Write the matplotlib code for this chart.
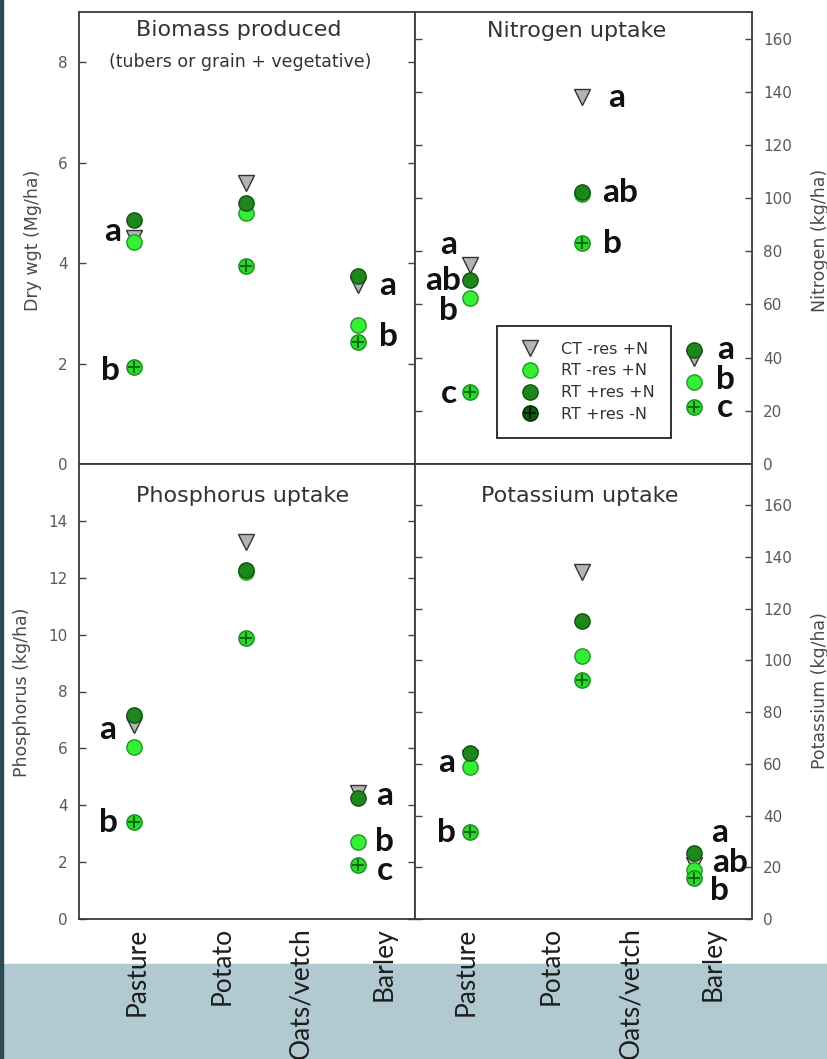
import matplotlib
matplotlib.use('Agg')
import matplotlib.pyplot as plt
from matplotlib.lines import Line2D
from matplotlib.patches import Rectangle

# categories
categories = ['Pasture', 'Potato', 'Oats/vetch', 'Barley']
crops = ['Pasture', 'Potato', 'Barley']   # crops with data
series_names = ['CT -res +N', 'RT -res +N', 'RT +res +N', 'RT +res -N']

# biomass (Mg/ha)
bio_ct = [4.50, 5.59, 3.56]
bio_rt_nores = [4.42, 4.99, 2.77]
bio_rt_res = [4.86, 5.19, 3.74]
bio_rt_res_non = [1.93, 3.94, 2.43]

# nitrogen uptake (kg/ha)
n_ct = [74.8, 138.0, 39.8]
n_rt_nores = [62.4, 101.5, 30.9]
n_rt_res = [69.2, 102.3, 42.9]
n_rt_res_non = [27.1, 83.0, 21.6]

# phosphorus uptake (kg/ha)
p_ct = [6.82, 13.26, 4.43]
p_rt_nores = [6.05, 12.20, 2.71]
p_rt_res = [7.17, 12.27, 4.25]
p_rt_res_non = [3.41, 9.88, 1.90]

# potassium uptake (kg/ha)
k_ct = [62.2, 134.1, 20.9]
k_rt_nores = [58.8, 101.6, 18.9]
k_rt_res = [64.1, 115.2, 25.5]
k_rt_res_non = [33.6, 92.4, 15.8]

# significance letters (x, y, text)
bio_letters = [(-0.19, 4.62, 'a'), (-0.21, 1.87, 'b'), (2.27, 3.56, 'a'), (2.27, 2.53, 'b')]
n_letters = [(-0.19, 82.4, 'a'), (-0.24, 69.2, 'ab'), (-0.19, 57.9, 'b'), (-0.19, 26.7, 'c'),
             (1.31, 138.0, 'a'), (1.34, 102.3, 'ab'), (1.27, 83.1, 'b'),
             (2.28, 42.9, 'a'), (2.28, 31.6, 'b'), (2.28, 21.1, 'c')]
p_letters = [(-0.23, 6.65, 'a'), (-0.23, 3.38, 'b'), (2.24, 4.36, 'a'), (2.24, 2.71, 'b'), (2.24, 1.72, 'c')]
k_letters = [(-0.21, 60.7, 'a'), (-0.21, 33.6, 'b'), (2.23, 33.6, 'a'), (2.32, 22.0, 'ab'), (2.23, 11.2, 'b')]

W, H = 828, 1059
fig = plt.figure(figsize=(W / 100, H / 100), dpi=100)
fig.patches.append(Rectangle((0, 0), 1, (H - 964) / H, transform=fig.transFigure,
                             color='#b1cad2', zorder=-2))
fig.patches.append(Rectangle((0, 0), 3 / W, 1, transform=fig.transFigure,
                             color='#2d4a52', zorder=-1))


def px_axes(x0, y0, x1, y1):
    return fig.add_axes([x0 / W, 1 - y1 / H, (x1 - x0) / W, (y1 - y0) / H])


ax_bio = px_axes(79, 12, 415, 464)
ax_n = px_axes(415, 12, 752, 464)
ax_p = px_axes(79, 464, 415, 919)
ax_k = px_axes(415, 464, 752, 919)

GRAY = '#b4b4b4'
LIME = '#35ee35'
DARK = '#1d861d'
CROSS_FILL = '#2ad82a'


def draw_points(ax, ct, nores, res, res_non):
    x = range(len(crops))
    ax.plot(x, ct, 'v', ls='none', ms=11, mfc=GRAY, mec='#333333', mew=1)
    ax.plot(x, nores, 'o', ls='none', ms=11, mfc=LIME, mec='#1f9a1f', mew=1)
    ax.plot(x, res, 'o', ls='none', ms=11, mfc=DARK, mec='#0d560d', mew=1)
    ax.plot(x, res_non, 'o', ls='none', ms=11, mfc=CROSS_FILL, mec='#1a8a1a', mew=1)
    ax.plot(x, res_non, '+', ls='none', ms=8, mec='#116011', mew=1.3)


panels = [
    (ax_bio, bio_ct, bio_rt_nores, bio_rt_res, bio_rt_res_non, bio_letters, 9, range(0, 9, 2), 'left', (-0.49, 2.51)),
    (ax_n, n_ct, n_rt_nores, n_rt_res, n_rt_res_non, n_letters, 170, range(0, 161, 20), 'right', (-0.49, 2.52)),
    (ax_p, p_ct, p_rt_nores, p_rt_res, p_rt_res_non, p_letters, 16, range(0, 15, 2), 'left', (-0.49, 2.51)),
    (ax_k, k_ct, k_rt_nores, k_rt_res, k_rt_res_non, k_letters, 176, range(0, 161, 20), 'right', (-0.49, 2.52)),
]

for ax, ct, nores, res, res_non, letters, ytop, yticks, side, xl in panels:
    draw_points(ax, ct, nores, res, res_non)
    for x, y, s in letters:
        ax.text(x, y, s, ha='center', va='center', fontsize=24, fontweight='bold',
                family='Lato', color='#111111')
    ax.set_ylim(0, ytop)
    ax.set_xlim(*xl)
    ax.set_yticks(list(yticks))
    for sp in ax.spines.values():
        sp.set_color('#3a3a3a')
        sp.set_linewidth(1.3)
    ax.tick_params(axis='y', direction='in', length=5, width=1, color='#444444',
                   labelsize=11, labelcolor='#5a5a5a', pad=8, left=True, right=True,
                   labelleft=(side == 'left'), labelright=(side == 'right'))
    ax.tick_params(axis='x', length=0)

for ax in (ax_bio, ax_n):
    ax.tick_params(axis='x', labelbottom=False)

ax_p.set_xticks([0.03, 0.79, 1.49, 2.23])
ax_k.set_xticks([-0.03, 0.73, 1.44, 2.17])
for ax in (ax_p, ax_k):
    ax.set_xticklabels(categories, rotation=90, family='Lato', fontsize=19, color='#1e1e1e')
    ax.tick_params(axis='x', pad=6)

# panel titles
title_kw = dict(ha='center', va='center', fontsize=16, color='#333333', family='DejaVu Sans')
ax_bio.text(0.476, 0.960, 'Biomass produced', transform=ax_bio.transAxes, **title_kw)
ax_bio.text(0.479, 0.889, '(tubers or grain + vegetative)', transform=ax_bio.transAxes,
            ha='center', va='center', fontsize=12.5, color='#333333')
ax_n.text(0.481, 0.958, 'Nitrogen uptake', transform=ax_n.transAxes, **title_kw)
ax_p.text(0.488, 0.930, 'Phosphorus uptake', transform=ax_p.transAxes, **title_kw)
ax_k.text(0.490, 0.930, 'Potassium uptake', transform=ax_k.transAxes, **title_kw)

# axis labels
lab_kw = dict(ha='center', va='center', rotation=90, fontsize=12.5, color='#4a4a4a')
fig.text(33 / W, 1 - 240 / H, 'Dry wgt (Mg/ha)', **lab_kw)
fig.text(22 / W, 1 - 692 / H, 'Phosphorus (kg/ha)', **lab_kw)
fig.text(820 / W, 1 - 240 / H, 'Nitrogen (kg/ha)', **lab_kw)
fig.text(820 / W, 1 - 691 / H, 'Potassium (kg/ha)', **lab_kw)

# legend
h_ct = Line2D([], [], marker='v', ls='none', ms=11, mfc=GRAY, mec='#333333')
h_nores = Line2D([], [], marker='o', ls='none', ms=11, mfc=LIME, mec='#1f9a1f')
h_res = Line2D([], [], marker='o', ls='none', ms=11, mfc=DARK, mec='#0d560d')
h_non = (Line2D([], [], marker='o', ls='none', ms=11, mfc='#0f560f', mec='#052b05'),
         Line2D([], [], marker='+', ls='none', ms=8, mec='#021a02', mew=1.3))
leg = ax_n.legend([h_ct, h_nores, h_res, h_non], series_names, loc='lower left',
                  bbox_to_anchor=(0.243, 0.058), frameon=True, fancybox=False,
                  edgecolor='#222222', framealpha=1, prop=dict(size=11.5),
                  borderpad=1.0, handlelength=2.2, handletextpad=0.8, labelspacing=0.42,
                  borderaxespad=0)
leg.get_frame().set_linewidth(1.3)
for t in leg.get_texts():
    t.set_color('#333333')

fig.savefig('out.png', dpi=100, facecolor='white')
